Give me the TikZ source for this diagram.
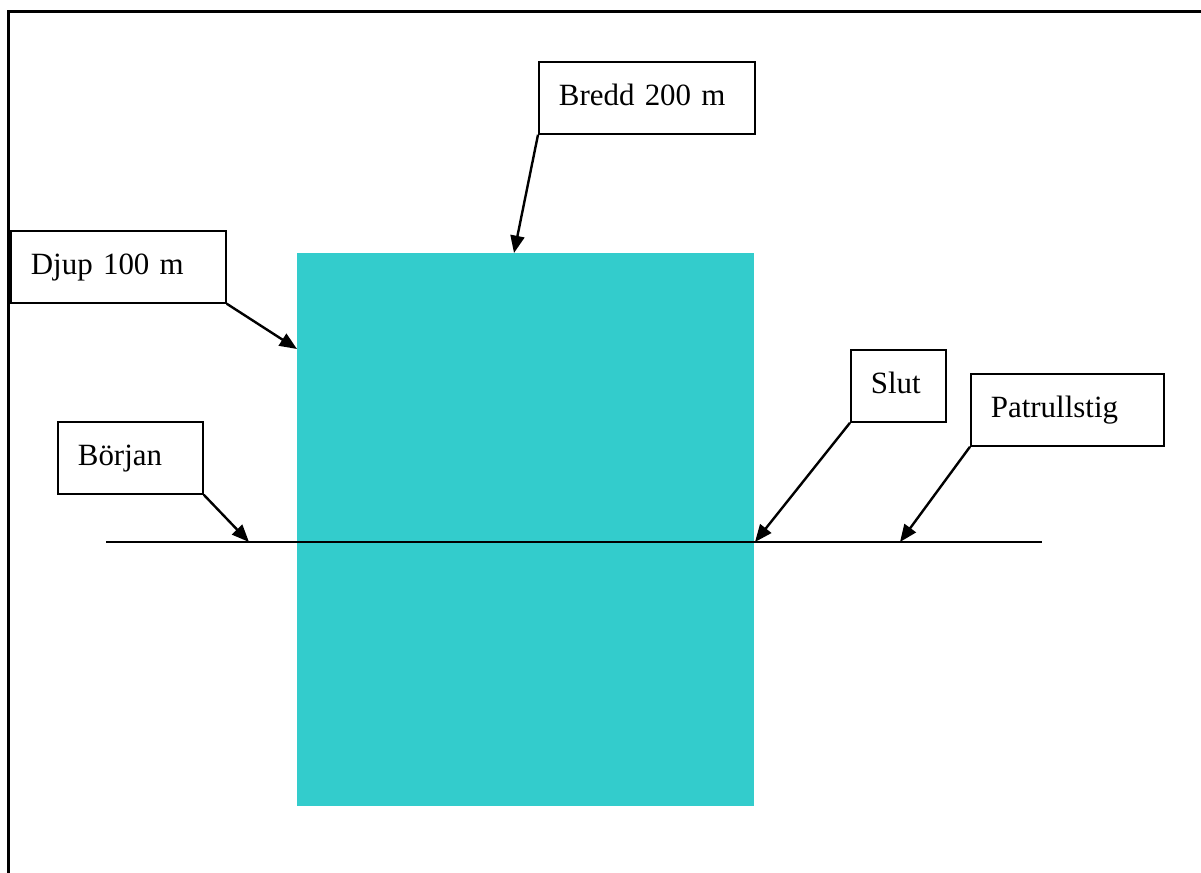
\documentclass[tikz,border=0pt]{standalone}
\usepackage{fontspec}
\setmainfont{Liberation Serif}
\usetikzlibrary{arrows.meta}
\definecolor{pondteal}{HTML}{33CCCC}
\begin{document}
\begin{tikzpicture}[x=0.75pt,y=-0.75pt,
  lbl/.style={draw=black,line width=1.3pt,fill=white,anchor=north west,
    inner xsep=15pt,inner ysep=0pt,text height=32.5pt,text depth=21.5pt,
    align=left,text width=#1,font=\fontsize{23.2}{27}\selectfont},
  ptr/.style={line width=1.8pt,-{Triangle[length=13pt,width=10.5pt]}},
  frameline/.style={line width=2.25pt}]
\useasboundingbox (0,0) rectangle (1201,873);
% outer frame (left and top only)
\coordinate (fBL) at (8.7,873);
\coordinate (fTL) at (8.7,12);
\coordinate (fTR) at (1201,12);
\draw[frameline] (fBL) -- (fTL) -- (fTR);
% pond
\fill[pondteal] (297,253) rectangle (754,806);
% path
\coordinate (pathW) at (106,542);
\coordinate (pathE) at (1042,542);
\draw[line width=1.6pt] (pathW) -- (pathE);
% arrow targets
\coordinate (tDjup) at (297,349);
\coordinate (tBredd) at (514,253);
\coordinate (tBorjan) at (249,542);
\coordinate (tSlut) at (755,542);
\coordinate (tPatrull) at (900,542);
% labels
\node[lbl=131.25pt] (djup) at (10,230) {Djup 100 m};
\node[lbl=132pt] (bredd) at (538,61) {Bredd 200 m};
\node[lbl=78.75pt] (borjan) at (57,421) {Början};
\node[lbl=41.25pt] (slut) at (850,349) {Slut};
\node[lbl=114.75pt] (patrull) at (970,373) {Patrullstig};
% connectors
\draw[ptr] (djup.south east) -- (tDjup);
\draw[ptr] (bredd.south west) -- (tBredd);
\draw[ptr] (borjan.south east) -- (tBorjan);
\draw[ptr] (slut.south west) -- (tSlut);
\draw[ptr] (patrull.south west) -- (tPatrull);
\end{tikzpicture}
\end{document}
